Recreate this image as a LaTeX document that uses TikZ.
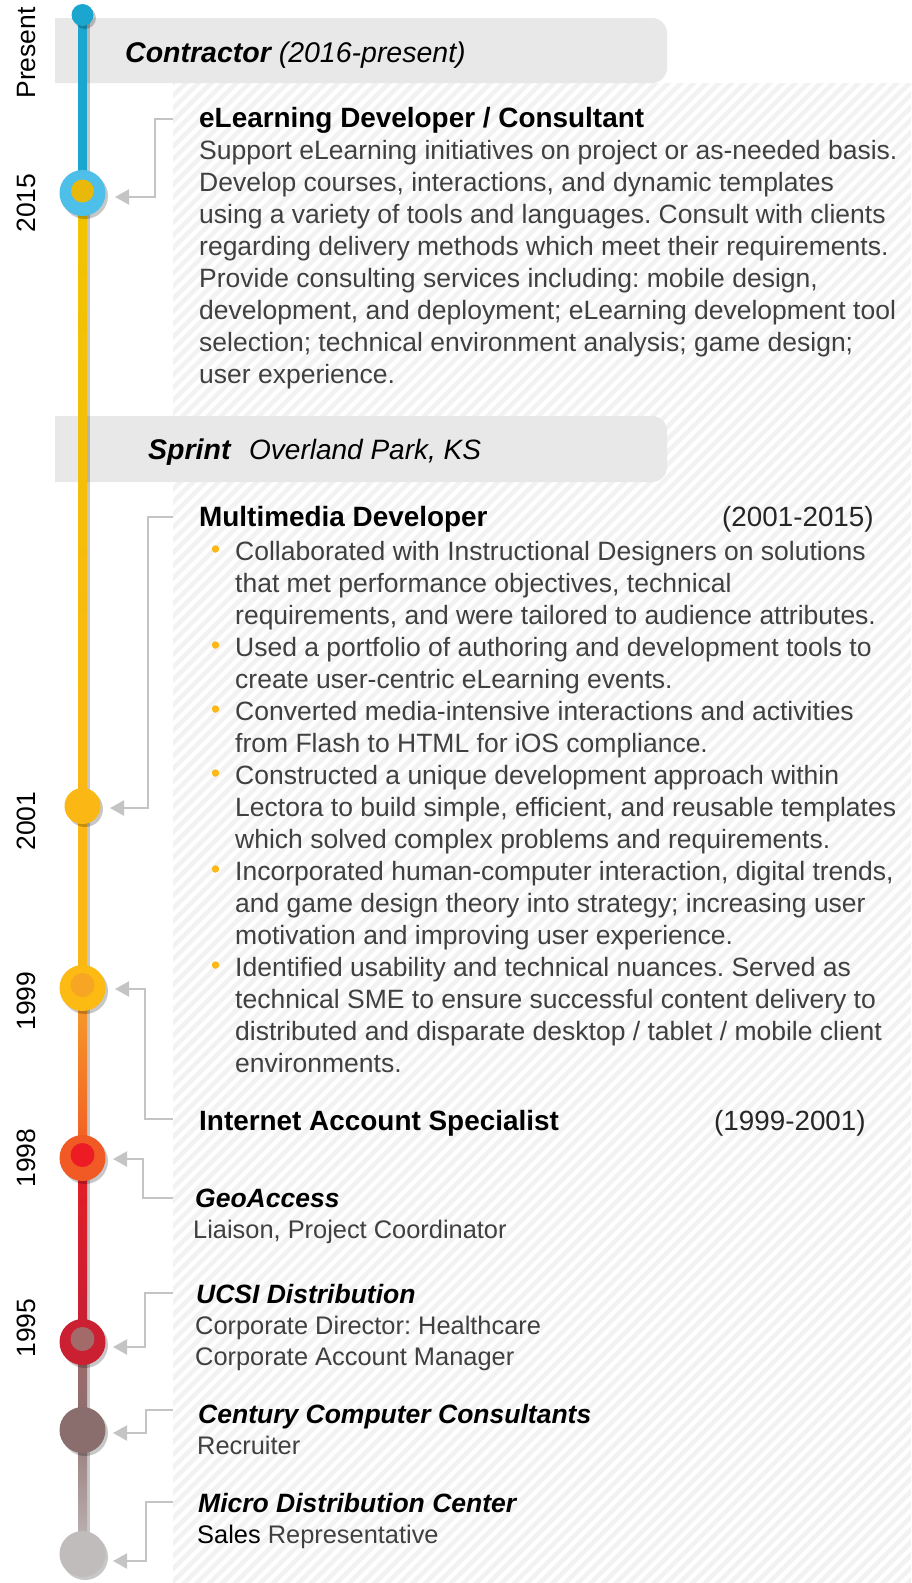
\documentclass[tikz,border=0pt]{standalone}
\usepackage{fontspec}
\setmainfont{Liberation Sans}
\usetikzlibrary{arrows.meta}
\frenchspacing
\definecolor{bodygray}{HTML}{404040}
\definecolor{hdrgray}{HTML}{E8E8E8}
\definecolor{stripec}{HTML}{F2F2F2}
\definecolor{conngray}{HTML}{C4C4C4}
\definecolor{bulletc}{HTML}{FDB913}
\definecolor{tlblue}{HTML}{1AA6CF}
\definecolor{ringblue}{HTML}{4DBFE8}
\definecolor{goldA}{HTML}{F0C400}
\definecolor{goldB}{HTML}{FBB714}
\definecolor{gold2015}{HTML}{E8B90A}
\definecolor{amber}{HTML}{FBB714}
\definecolor{amberring}{HTML}{FDBA12}
\definecolor{orangedot}{HTML}{F6A623}
\definecolor{orangeA}{HTML}{F6A02A}
\definecolor{orangeB}{HTML}{F15A24}
\definecolor{redring}{HTML}{F15A24}
\definecolor{reddot}{HTML}{ED1C24}
\definecolor{redA}{HTML}{E41E26}
\definecolor{redB}{HTML}{C52036}
\definecolor{crimring}{HTML}{CA2032}
\definecolor{mauvedot}{HTML}{A36A6A}
\definecolor{mauveA}{HTML}{A26A6A}
\definecolor{mauveB}{HTML}{8C6E6E}
\definecolor{centc}{HTML}{8A6E6E}
\definecolor{greyA}{HTML}{977A7A}
\definecolor{greyB}{HTML}{C0B8B8}
\definecolor{microc}{HTML}{C0BCBC}
\tikzset{
  body/.style={anchor=base west, inner sep=0pt, text=bodygray, font=\fontsize{26.5}{32}\selectfont},
  sub/.style={anchor=base west, inner sep=0pt, text=bodygray, font=\fontsize{25.4}{31}\selectfont},
  ttl/.style={anchor=base west, inner sep=0pt, text=black, font=\fontsize{27.9}{32}\selectfont\bfseries},
  org/.style={anchor=base west, inner sep=0pt, text=black, font=\fontsize{26.5}{32}\selectfont\bfseries\itshape},
  hdrtext/.style={anchor=base west, inner sep=0pt, text=black, font=\fontsize{28.5}{32}\selectfont},
  datetxt/.style={anchor=base west, inner sep=0pt, text=black!85, font=\fontsize{27.8}{32}\selectfont},
  yearlbl/.style={rotate=90, anchor=base, inner sep=0pt, text=black, font=\fontsize{26.5}{32}\selectfont},
  conn/.style={draw=conngray, line width=2pt, -{Triangle[length=14pt,width=15pt,fill=conngray]}},
  stripe/.style={draw=stripec, line width=4.5pt},
  bul/.style={circle, fill=bulletc, inner sep=0pt, minimum size=7.5pt},
  dot/.style={circle, inner sep=0pt},
  shad/.style={fill=black, opacity=0.22},
}
\begin{document}
\begin{tikzpicture}[x=1pt,y=-1pt]
\useasboundingbox (0,0) rectangle (911,1583);
\fill[white] (0,0) rectangle (911,1583);
% striped panel
\begin{scope}
\clip (173,83) rectangle (911,1583);
\foreach \c in {0,...,178}{
  \pgfmathsetmacro\k{256+12.7*\c}
  \draw[stripe] ({\k-1590},1590) -- ({\k-76},76);
}
\end{scope}
% header boxes
\begin{scope}
\clip (55,0) rectangle (911,1583);
\fill[hdrgray, rounded corners=15pt] (30,18) rectangle (667,83);
\fill[hdrgray, rounded corners=15pt] (30,416) rectangle (667,482);
\end{scope}
\node[hdrtext] (hcontr) at (125,62) {\bfseries\itshape Contractor\mdseries\ (2016-present)};
\node[hdrtext] (hsprint) at (148,459) {\bfseries\itshape Sprint};
\node[hdrtext, font=\fontsize{28}{32}\selectfont] (hsprintloc) at (249,459) {\itshape Overland Park, KS};
% timeline shadow
\fill[shad] (86,15) rectangle (90,1556);
% timeline segments
\fill[tlblue] (78,15) rectangle (87,193);
\shade[top color=goldA, bottom color=goldB] (78,193) rectangle (87,806);
\fill[amber] (78,806) rectangle (87,988);
\shade[top color=orangeA, bottom color=orangeB] (78,988) rectangle (87,1158);
\shade[top color=redA, bottom color=redB] (78,1158) rectangle (87,1342);
\shade[top color=mauveA, bottom color=mauveB] (78,1342) rectangle (87,1430);
\shade[top color=greyA, bottom color=greyB] (78,1430) rectangle (87,1554);
% circle shadows
\foreach \yy/\rr in {15/11,193/23,806/18,988/23,1158/23,1342/23,1430/23,1554/23}{
  \fill[shad] (85,\yy+3) circle (\rr pt);
}
% circles
\node[dot, fill=tlblue, minimum size=22pt] (dtop) at (82.5,15) {};
\node[dot, fill=ringblue, minimum size=46pt] (d2015) at (82.5,193) {};
\node[dot, fill=gold2015, minimum size=23pt] (d2015i) at (82.5,191) {};
\node[dot, fill=amber, minimum size=36pt] (d2001) at (82.5,806) {};
\node[dot, fill=amberring, minimum size=46pt] (d1999) at (82.5,988) {};
\node[dot, fill=orangedot, minimum size=24pt] (d1999i) at (82.5,985) {};
\node[dot, fill=redring, minimum size=46pt] (d1998) at (82.5,1158) {};
\node[dot, fill=reddot, minimum size=24pt] (d1998i) at (82.5,1155) {};
\node[dot, fill=crimring, minimum size=46pt] (d1995) at (82.5,1342) {};
\node[dot, fill=mauvedot, minimum size=24pt] (d1995i) at (82.5,1339) {};
\node[dot, fill=centc, minimum size=46pt] (dcent) at (82.5,1430) {};
\node[dot, fill=microc, minimum size=46pt] (dmicro) at (82.5,1554) {};
% year labels
\node[yearlbl] (ypres) at (35,53) {Present};
\node[yearlbl] (y2015) at (35,203) {2015};
\node[yearlbl] (y2001) at (35,821) {2001};
\node[yearlbl] (y1999) at (35,1001) {1999};
\node[yearlbl] (y1998) at (35,1158) {1998};
\node[yearlbl] (y1995) at (35,1328) {1995};
% contractor block
\node[ttl] (telearn) at (199,127) {eLearning Developer / Consultant};
\foreach \t [count=\i from 0] in {
  {Support eLearning initiatives on project or as-needed basis.},
  {Develop courses, interactions, and dynamic templates},
  {using a variety of tools and languages. Consult with clients},
  {regarding delivery methods which meet their requirements.},
  {Provide consulting services including: mobile design,},
  {development, and deployment; eLearning development tool},
  {selection; technical environment analysis; game design;},
  {user experience.}}{
  \node[body] (e\i) at (199,{159.5+32*\i}) {\t};
}
% sprint block
\node[ttl] (tmulti) at (199,526.5) {Multimedia Developer};
\node[datetxt] (dmulti) at (722,526.5) {(2001-2015)};
\foreach \t [count=\i from 0] in {
  {Collaborated with Instructional Designers on solutions},
  {that met performance objectives, technical},
  {requirements, and were tailored to audience attributes.},
  {Used a portfolio of authoring and development tools to},
  {create user-centric eLearning events.},
  {Converted media-intensive interactions and activities},
  {from Flash to HTML for iOS compliance.},
  {Constructed a unique development approach within},
  {Lectora to build simple, efficient, and reusable templates},
  {which solved complex problems and requirements.},
  {Incorporated human-computer interaction, digital trends,},
  {and game design theory into strategy; increasing user},
  {motivation and improving user experience.},
  {Identified usability and technical nuances. Served as},
  {technical SME to ensure successful content delivery to},
  {distributed and disparate desktop / tablet / mobile client},
  {environments.}}{
  \node[body] (m\i) at (235,{560+32*\i}) {\t};
}
\foreach \i in {0,3,5,7,10,13}{
  \node[bul] (b\i) at (215.5,{549+32*\i}) {};
}
\node[ttl] (tinet) at (199,1130.5) {Internet Account Specialist};
\node[datetxt] (dinet) at (714,1130.5) {(1999-2001)};
% earlier employers
\node[org] (ogeo) at (195,1207) {GeoAccess};
\node[sub] (ogeo1) at (193,1238) {Liaison, Project Coordinator};
\node[org] (oucsi) at (196,1303) {UCSI Distribution};
\node[sub] (oucsi1) at (195,1334) {Corporate Director: Healthcare};
\node[sub] (oucsi2) at (195,1365) {Corporate Account Manager};
\node[org] (ocent) at (198,1423) {Century Computer Consultants};
\node[sub] (ocent1) at (197,1454) {Recruiter};
\node[org] (omicro) at (198,1512) {Micro Distribution Center};
\node[sub] (omicro1) at (197,1543) {\textcolor{black}{Sales} Representative};
% connectors
\coordinate (s1) at (173,119);  \coordinate (a1) at (115,197);
\coordinate (s2) at (173,517);  \coordinate (a2) at (110,808);
\coordinate (s3) at (173,1119); \coordinate (a3) at (115,989);
\coordinate (s4) at (173,1198); \coordinate (a4) at (113,1159);
\coordinate (s5) at (173,1293); \coordinate (a5) at (113,1347);
\coordinate (s6) at (173,1410); \coordinate (a6) at (113,1433);
\coordinate (s7) at (173,1502); \coordinate (a7) at (113,1561);
\draw[conn] (s1) -- ++(-18,0) |- (a1);
\draw[conn] (s2) -- ++(-25,0) |- (a2);
\draw[conn] (s3) -- ++(-28,0) |- (a3);
\draw[conn] (s4) -- ++(-30,0) |- (a4);
\draw[conn] (s5) -- ++(-28,0) |- (a5);
\draw[conn] (s6) -- ++(-27,0) |- (a6);
\draw[conn] (s7) -- ++(-27,0) |- (a7);
\end{tikzpicture}
\end{document}
